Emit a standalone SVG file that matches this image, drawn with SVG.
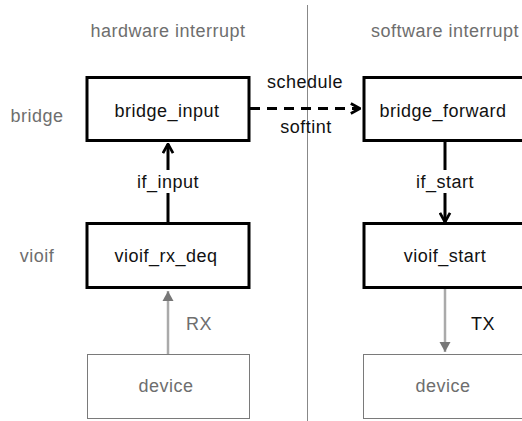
<svg xmlns="http://www.w3.org/2000/svg" width="522" height="421" viewBox="0 0 522 421">
<style>
text{font-family:"Liberation Sans",Arial,sans-serif;font-size:18px;letter-spacing:0.5px;text-anchor:middle}
.g{fill:#6e6e6e}
.k{fill:#111}
.box{fill:#fff;stroke:#000;stroke-width:3}
.dev{fill:#fff;stroke:#7a7a7a;stroke-width:1}
.blk{fill:none;stroke:#000;stroke-width:3}
.gry{fill:none;stroke:#aaa;stroke-width:2.5}
</style>
<defs>
<marker id="open" viewBox="0 0 12 14" refX="11" refY="7" markerWidth="11" markerHeight="13" markerUnits="userSpaceOnUse" orient="auto">
<path d="M1,1.5 L11,7 L1,12.5" fill="none" stroke="#000" stroke-width="3"/>
</marker>
<marker id="tri" viewBox="0 0 12 12" refX="11" refY="6" markerWidth="12" markerHeight="12" markerUnits="userSpaceOnUse" orient="auto">
<path d="M1,0.5 L11,6 L1,11.5 Z" fill="#777"/>
</marker>
</defs>
<line x1="307.5" y1="5" x2="307.5" y2="421" stroke="#888" stroke-width="1"/>
<text class="g" x="168" y="37">hardware interrupt</text>
<text class="g" x="445" y="37">software interrupt</text>
<text class="g" x="37" y="122">bridge</text>
<text class="g" x="37" y="262">vioif</text>
<g id="connectors">
<line class="blk" x1="250" y1="108.5" x2="360" y2="108.5" stroke-dasharray="10 7" marker-end="url(#open)"/>
<text class="k" x="305" y="88">schedule</text>
<text class="k" x="306" y="133">softint</text>
<line class="blk" x1="168" y1="170" x2="168" y2="144" marker-end="url(#open)"/>
<line class="blk" x1="168" y1="193" x2="168" y2="222"/>
<text class="k" x="168" y="188">if_input</text>
<line class="blk" x1="445" y1="141" x2="445" y2="170"/>
<line class="blk" x1="445" y1="193" x2="445" y2="222" marker-end="url(#open)"/>
<text class="k" x="445" y="188">if_start</text>
<line class="gry" x1="168" y1="354" x2="168" y2="291" marker-end="url(#tri)"/>
<text class="g" x="199" y="330">RX</text>
<line class="gry" x1="445" y1="288" x2="445" y2="352" marker-end="url(#tri)"/>
<text class="k" x="483" y="330">TX</text>
</g>
<g id="bridge_input">
<rect class="box" x="87" y="77.5" width="162" height="63"/>
<text class="k" x="167" y="117">bridge_input</text>
</g>
<g id="bridge_forward">
<rect class="box" x="364" y="77.5" width="162" height="63"/>
<text class="k" x="443" y="117">bridge_forward</text>
</g>
<g id="vioif_rx_deq">
<rect class="box" x="87" y="223.5" width="162" height="64"/>
<text class="k" x="166" y="262">vioif_rx_deq</text>
</g>
<g id="vioif_start">
<rect class="box" x="364" y="223.5" width="162" height="64"/>
<text class="k" x="445" y="262">vioif_start</text>
</g>
<g id="device_rx">
<rect class="dev" x="87.5" y="354.5" width="162" height="64"/>
<text class="g" x="166" y="392">device</text>
</g>
<g id="device_tx">
<rect class="dev" x="363.5" y="354.5" width="162" height="64"/>
<text class="g" x="443" y="392">device</text>
</g>
</svg>
